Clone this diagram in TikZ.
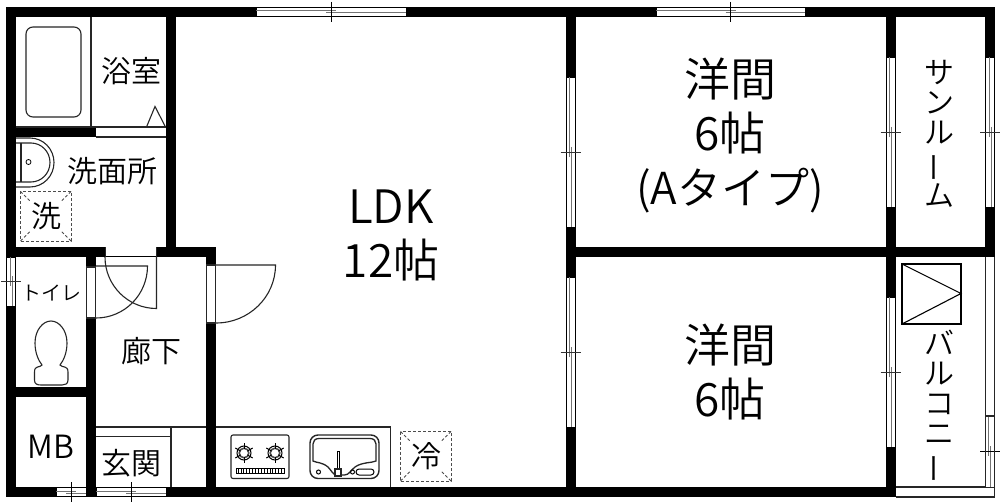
\documentclass[tikz,border=0pt]{standalone}
\usepackage{fontspec}
\setmainfont{Noto Sans CJK JP DemiLight}
\usetikzlibrary{calc}
\tikzset{
  wall/.style={fill=black,draw=none},
  fix/.style={draw=black!85,line width=1.1pt},
  lbl/.style={inner sep=0pt,font=\fontsize{30}{30}\selectfont,align=center},
  big/.style={inner sep=0pt,font=\fontsize{46}{54}\selectfont,align=center},
  dashbox/.style={draw=black!70,line width=0.8pt,dash pattern=on 3pt off 2pt},
}
\newcommand{\hwin}[3]{% x1 x2 y-top
  \fill[white] (#1,#3) rectangle (#2,#3+10);
  \draw[line width=0.9pt] (#1,#3+.5) -- (#2,#3+.5) (#1,#3+9.5) -- (#2,#3+9.5) (#1,#3+.5) -- (#1,#3+9.5) (#2,#3+.5) -- (#2,#3+9.5);
  \draw[black!55,line width=1pt] (#1,#3+4) -- ({(#1+#2)/2+5},#3+4);
  \draw[black!55,line width=1pt] ({(#1+#2)/2-5},#3+6) -- (#2,#3+6);
  \draw[line width=.8pt] ({(#1+#2)/2},#3-5) -- ({(#1+#2)/2},#3+15);
}
\newcommand{\vwin}[3]{% x-left y1 y2
  \fill[white] (#1,#2) rectangle (#1+10,#3);
  \draw[line width=0.9pt] (#1+.5,#2) -- (#1+.5,#3) (#1+9.5,#2) -- (#1+9.5,#3) (#1+.5,#2) -- (#1+9.5,#2) (#1+.5,#3) -- (#1+9.5,#3);
  \draw[black!55,line width=1pt] (#1+4,#2) -- (#1+4,{(#2+#3)/2+5});
  \draw[black!55,line width=1pt] (#1+6,{(#2+#3)/2-5}) -- (#1+6,#3);
  \draw[black!80,line width=.8pt] (#1-5,{(#2+#3)/2}) -- (#1+15,{(#2+#3)/2});
}
\newcommand{\rbar}{\rotatebox[origin=c]{90}{ー}}
\newcommand{\burner}[2]{%
  \draw[line width=1pt] (#1,#2) circle (7);
  \draw[line width=1.6pt,black!70] (#1,#2) circle (4.8);
  \foreach \a in {30,90,...,330} \draw[line width=1pt] ($(#1,#2)+(\a:4)$) -- ($(#1,#2)+(\a:10)$);
}
\begin{document}
\begin{tikzpicture}[x=1pt,y=-1pt]
\useasboundingbox (0,0) rectangle (1000,502);
\fill[white] (0,0) rectangle (1000,502);
% walls
\fill[wall] (6,7) rectangle (995,17);
\fill[wall] (6,7) rectangle (16,497);
\fill[wall] (166,7) rectangle (176,257);
\fill[wall] (16,127) rectangle (96,137);
\fill[wall] (6,247) rectangle (216,257);
\fill[wall] (86,247) rectangle (96,497);
\fill[wall] (206,247) rectangle (216,497);
\fill[wall] (16,386.5) rectangle (86,396.5);
\fill[wall] (6,487) rectangle (896,497);
\fill[wall] (565.5,7) rectangle (575.5,497);
\fill[wall] (565.5,247) rectangle (995,257);
\fill[wall] (885.5,7) rectangle (895.5,497);
\fill[wall] (985,7) rectangle (995,257);
% openings
\fill[white] (96,127.5) rectangle (166,136.5);
\draw[fix] (96,137) -- (166,137);
\fill[white] (105.5,247.5) rectangle (156.5,256.5);
\draw[fix] (105.5,247.5) -- (105.5,257) (156.5,247.5) -- (156.5,257);
\fill[white] (86,267) rectangle (96,318);
\draw[fix] (86.5,267) rectangle (95.5,318);
\fill[white] (206,265) rectangle (216,323);
\draw[fix] (206.5,265) rectangle (215.5,323);
% windows
\hwin{256}{406}{7}
\hwin{656}{805}{7}
\hwin{56}{86}{487}
\hwin{96}{166}{487}
\vwin{565.5}{77}{227}
\vwin{565.5}{277}{427}
\vwin{885.5}{57}{207}
\vwin{885.5}{297}{447}
\vwin{985}{57}{207}
\vwin{6}{257}{306}
% balcony
\draw[fix] (985.5,257) -- (985.5,487) (994.5,257) -- (994.5,497) -- (896,497) (896,487) -- (995,487) (985.5,416) -- (995,416);
\fill[white] (986,416.5) rectangle (994,486.5);
\draw[black!55,line width=1pt] (988.5,416.5) -- (988.5,456) ;
\draw[black!55,line width=1pt] (990.5,446) -- (990.5,486.5);
\draw[line width=.8pt] (980,451) -- (1000,451);
\draw[fix] (985.5,416) -- (985.5,487) (994.5,416) -- (994.5,487);
\draw[line width=1.1pt] (902,264) rectangle (961,324);
\draw[line width=1.1pt] (902,264) -- (961,293.5) -- (902,324);
% doors
\draw[fix] (216,265) -- (275.5,265) arc[start angle=0,end angle=90,x radius=59.5,y radius=58];
\draw[fix] (96,266) -- (147.5,266) arc[start angle=0,end angle=90,x radius=51.5,y radius=52];
\draw[fix] (156.5,257) -- (156.5,308.5) arc[start angle=270,end angle=180,x radius=51.5,y radius=-51.5];
% bath
\draw[fix] (16,127) -- (166,127) (91,17) -- (91,127);
\draw[fix,rounded corners=7pt] (26,27) rectangle (81,117);
\draw[fix] (146.5,127) -- (155,106.5) -- (165.5,127);
% wash basin
\draw[fix] (16,138) -- (30,138) arc[start angle=90,end angle=-90,x radius=24,y radius=-24.5] -- (16,187);
\draw[fix] (16,143) -- (31,143) arc[start angle=90,end angle=-90,x radius=19,y radius=-19.5] -- (16,182);
\draw[fix] (21,143) -- (21,182);
\draw[line width=.8pt] (28.5,162) circle (2.5);
% dashed boxes
\draw[dashbox] (20.5,191.5) rectangle (71,241);
\draw[dashbox] (20.5,191.5) -- (30,201) (71,191.5) -- (61.5,201) (20.5,241) -- (30,231.5) (71,241) -- (61.5,231.5);
\draw[dashbox] (400.5,431.5) rectangle (451,481);
\draw[dashbox] (400.5,431.5) -- (410,441) (451,431.5) -- (441.5,441) (400.5,481) -- (410,471.5) (451,481) -- (441.5,471.5);
% toilet
\draw[fix] (42,365) .. controls (38,360) and (35,352) .. (35,343) .. controls (35,330) and (43,321) .. (51,321) .. controls (59,321) and (67,330) .. (67,343) .. controls (67,352) and (64,360) .. (60,365) .. controls (62,368) and (68,365) .. (68,372) -- (68,380) .. controls (68,384) and (65,385) .. (62,385) -- (41,385) .. controls (37,385) and (34.5,384) .. (34.5,380) -- (34.5,372) .. controls (34.5,365) and (40,368) .. (42,365) -- cycle;
% entry & kitchen
\draw[fix] (96,427) -- (206,427) (96,436.5) -- (171,436.5) (171,427) -- (171,487);
\draw[fix] (216,427) -- (390.5,427) -- (390.5,487);
% stove
\draw[fix,rounded corners=2pt] (231,435) rectangle (289,478.5);
\burner{244}{453}
\burner{275}{453}
\draw[line width=.8pt] (236,468) rectangle (284,473);
\foreach \i in {0,...,15} \draw[line width=.8pt] (238+\i*2.9,468) -- (238+\i*2.9,473);
% sink
\draw[draw=black!85,line width=1.4pt,rounded corners=8pt] (310,435) rectangle (379,478.5);
\draw[draw=black!85,line width=1.3pt] (319,438.5) -- (370,438.5) .. controls (374,438.5) and (376,441) .. (376,444) -- (376,461) .. controls (372,463) and (362,462) .. (355,467) .. controls (351,470) and (349,475) .. (344.5,475) -- (337,475) .. controls (333,475) and (331,470) .. (328,467) .. controls (322,462) and (317,463) .. (313,461) -- (313,444) .. controls (313,441) and (315,438.5) .. (319,438.5) -- cycle;
\draw[line width=.9pt] (337.5,451) -- (337.5,469) (339.5,451) -- (339.5,469) (337.5,451) -- (339.5,451);
\draw[fix,fill=white] (335,469) rectangle (341,476);
\draw[line width=1pt] (318.5,472) circle (2);
\draw[line width=1pt] (352.5,472) circle (2);
\draw[line width=1pt,rounded corners=3pt] (356,469) rectangle (374,475);
% labels
\node[big] (ldk) at (391,235.5) {LDK\\12帖};
\node[big] (yo1) at (730,135) {洋間\\6帖\\{\fontsize{44}{54}\selectfont (Aタイプ)}};
\node[big] (yo2) at (730,371.5) {洋間\\6帖};
\node[lbl] (bath) at (131.5,71) {浴室};
\node[lbl] (wash) at (112,171) {洗面所};
\node[lbl] (wm) at (46,216.5) {洗};
\node[lbl,font=\fontsize{20}{20}\selectfont] (toilet) at (51,293) {トイレ};
\node[lbl] (hall) at (151,351) {廊下};
\node[lbl,font=\fontsize{32}{32}\selectfont] (mb) at (51,447) {MB};
\node[lbl] (ent) at (131,463) {玄関};
\node[lbl] (fridge) at (426,456) {冷};
\node[lbl] (sun) at (939.5,134) {サ\\ン\\ル\\\rbar\\ム};
\node[lbl] (bal) at (939.5,407) {バ\\ル\\コ\\ニ\\\rbar};
\end{tikzpicture}
\end{document}
